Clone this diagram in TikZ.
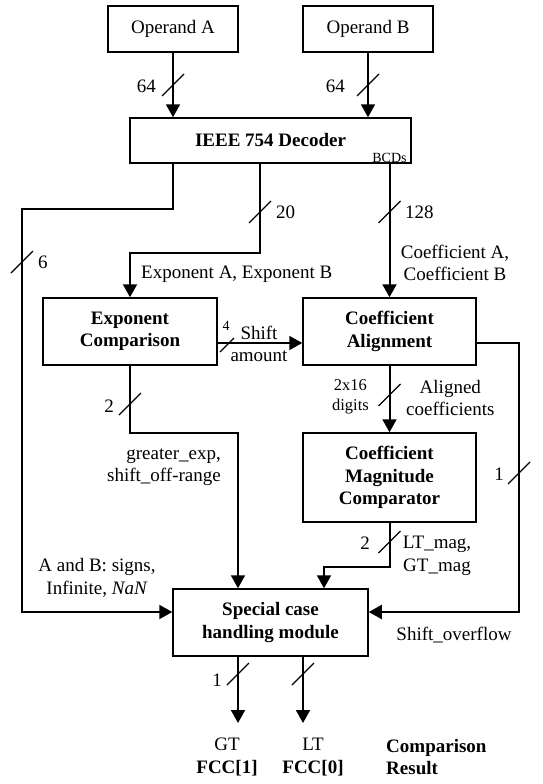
\documentclass[tikz,border=0pt]{standalone}
\usepackage{fontspec}
\setmainfont{Liberation Serif}
\usetikzlibrary{arrows.meta, positioning, calc}
\tikzset{
  Slash/.pic={\draw[line width=1.3pt] (-11,11) -- (11,-11);},
  TinySlash/.pic={\draw[line width=1.3pt] (-7,7) -- (7,-7);}
}

\begin{document}
\begin{tikzpicture}
  [
    x=1pt, y=-1pt,
    Box/.style={draw=black, line width=1.5pt, inner sep=0pt, align=center, font=\fontsize{19}{22.5}\selectfont},
    Bold/.style={Box, font=\fontsize{19}{22.5}\selectfont\bfseries},
    Txt/.style={inner sep=0pt, align=center, font=\fontsize{19}{22.5}\selectfont},
    Tiny/.style={inner sep=0pt, align=center, font=\fontsize{14}{16}\selectfont},
    Wire/.style={line width=2pt},
    Arrow/.style={Wire, -{Triangle[length=13pt, width=14pt]}}
  ]
  \useasboundingbox (0,0) rectangle (543,784);

  % Blocks
  \node[Box, minimum width=130pt, minimum height=46pt] (opA) at (173,29) {Operand A};
  \node[Box, minimum width=130pt, minimum height=46pt] (opB) at (368,29) {Operand B};
  \node[Bold, minimum width=281pt, minimum height=45pt] (dec) at (270.5,140.5) {IEEE 754 Decoder};
  \node[Bold, minimum width=174pt, minimum height=67pt] (expc) at (130,331.5) {Exponent\\Comparison};
  \node[Bold, minimum width=173pt, minimum height=67pt] (calign) at (389.5,331.5) {Coefficient\\Alignment};
  \node[Bold, minimum width=173pt, minimum height=89pt] (mag) at (389.5,477.5) {Coefficient\\Magnitude\\Comparator};
  \node[Bold, minimum width=195pt, minimum height=67pt] (spec) at (270.5,622.5) {Special case\\handling module};
  \node[Tiny, anchor=south, yshift=1pt] (bcd) at (calign.north |- dec.south) {BCDs};

  % Bends
  \coordinate (l1) at (22,209);
  \coordinate (l2) at (22,612);
  \coordinate (e1) at (260,253);
  \coordinate (sh) at (217,343);
  \coordinate (r1) at (519,343);
  \coordinate (r2) at (519,612);
  \coordinate (g1) at (238,433);
  \coordinate (m1) at (324,567);
  \coordinate (o1) at (238,723);
  \coordinate (o0) at (303,723);

  % Lines
  \draw[Arrow] (opA.south) -- (opA.south |- dec.north);
  \draw[Arrow] (opB.south) -- (opB.south |- dec.north);
  \draw[Arrow] (opA.south |- dec.south) |- (l1) -- (l2) -- (spec.west |- l2);
  \draw[Arrow] (dec.south -| e1) -- (e1) -| (expc.north);
  \draw[Arrow] (calign.north |- dec.south) -- (calign.north);
  \draw[Arrow] (expc.east |- sh) -- (calign.west |- sh);
  \draw[Arrow] (calign.east |- r1) -- (r1) |- (spec.east |- r2);
  \draw[Arrow] (expc.south) |- (g1) -- (spec.north -| g1);
  \draw[Arrow] (calign.south) -- (mag.north);
  \draw[Arrow] (mag.south -| calign.south) |- (m1) -- (spec.north -| m1);
  \draw[Arrow] (spec.south -| o1) -- (o1);
  \draw[Arrow] (spec.south -| o0) -- (o0);

  % Bus widths
  \pic at (173,85) {Slash};
  \pic at (368,85) {Slash};
  \pic at (22,262) {Slash};
  \pic at (260,212) {Slash};
  \pic at (389.5,212) {Slash};
  \pic at (227,345) {TinySlash};
  \pic at (130,404) {Slash};
  \pic at (389.5,395) {Slash};
  \pic at (519,473) {Slash};
  \pic at (389.5,542) {Slash};
  \pic at (238,674) {Slash};
  \pic at (303,674) {Slash};
  \node[Txt, anchor=east] (wA) at (156,86) {64};
  \node[Txt, anchor=east] (wB) at (345,86) {64};
  \node[Txt, anchor=west] (w6) at (38,262) {6};
  \node[Txt, anchor=west] (w20) at (276,212) {20};
  \node[Txt, anchor=west] (w128) at (405,212) {128};
  \node[Tiny] (w4) at (226,326) {4};
  \node[Txt, anchor=east] (w2) at (114,406) {2};
  \node[Txt, anchor=east] (w1r) at (504,474) {1};
  \node[Txt, anchor=east] (w2m) at (370,543) {2};
  \node[Txt, anchor=east] (w1) at (222,680) {1};

  % Signal names
  \node[Txt, anchor=west] (expab) at (141,274) {Exponent A, Exponent B};
  \node[Txt] (coefab) at (455,263) {Coefficient A,\\Coefficient B};
  \node[Txt] (shamt) at (259,344) {Shift\\amount};
  \node[Txt, align=right, anchor=east] (grex) at (221,467) {greater\_exp,\\shift\_off-range};
  \node[Txt, font=\fontsize{16.5}{20}\selectfont, anchor=east] (digs) at (369,397) {2x16\\digits};
  \node[Txt, anchor=west] (algn) at (406,398) {Aligned\\coefficients};
  \node[Txt] (ltgt) at (437,556) {LT\_mag,\\GT\_mag};
  \node[Txt] (abns) at (97,578) {A and B: signs,\\Infinite, \textit{NaN}};
  \node[Txt] (shov) at (454,635) {Shift\_overflow};

  % Outputs
  \node[Txt] (gt) at (227,757) {GT\\\textbf{FCC[1]}};
  \node[Txt] (lt) at (313,757) {LT\\\textbf{FCC[0]}};
  \node[Txt, align=left, anchor=west, font=\fontsize{19}{22.5}\selectfont\bfseries] (res) at (386,757) {Comparison\\Result};

\end{tikzpicture}
\end{document}
